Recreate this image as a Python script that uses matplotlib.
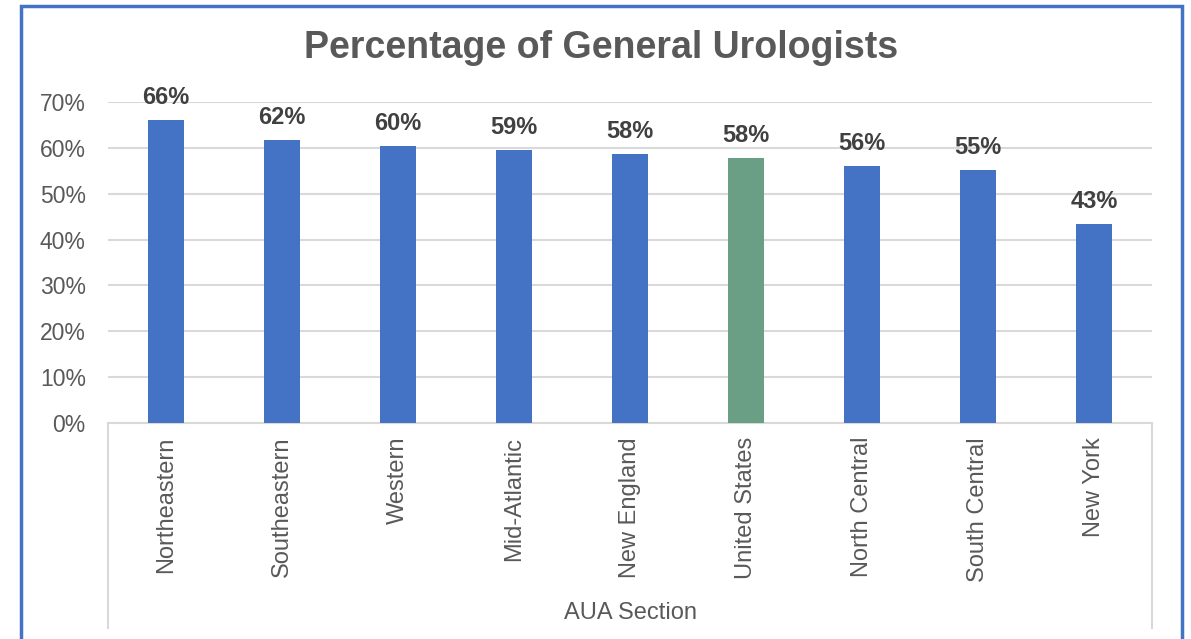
import numpy as np
import matplotlib
matplotlib.use("Agg")
import matplotlib.pyplot as plt
from matplotlib.patches import Rectangle
from matplotlib.ticker import PercentFormatter

plt.rcParams['font.family'] = ['Liberation Sans', 'DejaVu Sans']

# data
sections = ['Northeastern', 'Southeastern', 'Western', 'Mid-Atlantic', 'New England',
            'United States', 'North Central', 'South Central', 'New York']
pct = [0.661, 0.617, 0.604, 0.595, 0.586, 0.578, 0.560, 0.552, 0.434]
labels = ['66%', '62%', '60%', '59%', '58%', '58%', '56%', '55%', '43%']

blue = '#4472C4'
green = '#6A9F86'
grid_c = '#D9D9D9'
txt = '#595959'

W, H = 1191, 639
fig = plt.figure(figsize=(W / 100, H / 100), dpi=100)
ax = fig.add_axes([108 / W, 1 - 423 / H, (1152 - 108) / W, (423 - 102) / H])

x = np.arange(len(sections))
colors = [green if s == 'United States' else blue for s in sections]
bars = ax.bar(x, pct, width=0.31, color=colors, zorder=3)

for b, lab in zip(bars, labels):
    ax.annotate(lab, (b.get_x() + b.get_width() / 2, b.get_height()),
                xytext=(0, 8), textcoords='offset points', ha='center', va='bottom',
                fontsize=17, fontweight='bold', color='#404040')

ax.set_xlim(-0.5, len(sections) - 0.5)
ax.set_ylim(0, 0.7)
ax.set_yticks(np.arange(0, 0.71, 0.1))
ax.yaxis.set_major_formatter(PercentFormatter(1.0, decimals=0))
ax.tick_params(axis='y', length=0, pad=16, labelsize=16.5, labelcolor=txt)
ax.set_xticks(x)
ax.set_xticklabels(sections, rotation=90, ha='center', va='top')
ax.tick_params(axis='x', length=0, pad=10, labelsize=17, labelcolor=txt)
ax.grid(axis='y', color=grid_c, linewidth=1.5, zorder=0)

for s in ['top', 'right', 'left']:
    ax.spines[s].set_visible(False)
ax.spines['bottom'].set_color(grid_c)
ax.spines['bottom'].set_linewidth(1.5)

# category box side lines below the axis
drop = -(628 - 423) / (423 - 102)
for xe in (0, 1):
    ax.plot([xe, xe], [0, drop], transform=ax.transAxes, color=grid_c,
            linewidth=1.5, clip_on=False)

fig.text(630 / W, 1 - 613 / H, 'AUA Section', ha='center', va='center',
         fontsize=17, color=txt)

fig.text(601 / W, 1 - 48 / H, 'Percentage of General Urologists', ha='center', va='center',
         fontsize=27, fontweight='bold', color=txt)

fig.add_artist(Rectangle((21 / W, -0.05), (1182 - 21) / W, 1 - 6 / H + 0.05,
                         transform=fig.transFigure, fill=False, edgecolor=blue, linewidth=2.5))

fig.savefig('out.png', dpi=100)
